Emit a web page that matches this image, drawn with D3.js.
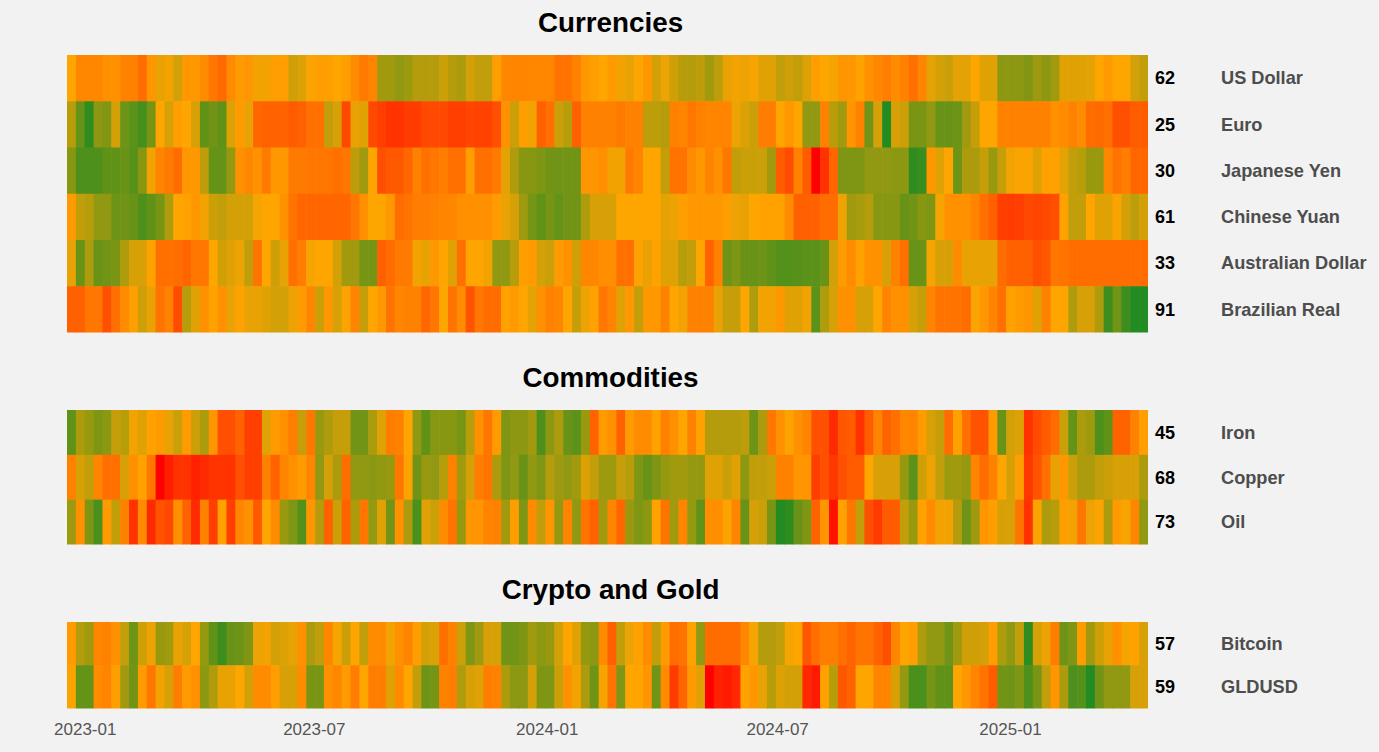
<!DOCTYPE html>
<html>
<head>
<meta charset="utf-8">
<script src="https://d3js.org/d3.v7.min.js"></script>
<style>
html,body{margin:0;padding:0;background:#f2f2f2;}
svg{display:block;font-family:"Liberation Sans",Arial,sans-serif;}
</style>
</head>
<body>
<svg id="chart" width="1379" height="752"></svg>
<script>
const usDollar = [50,41,41,41,44,44,39,39,33,45,
55,53,60,46,46,42,36,32,42,47,
45,53,53,48,48,61,58,51,48,48,
50,48,42,37,40,71,71,75,72,67,
67,67,62,67,69,60,64,64,48,41,
40,40,41,41,41,35,35,39,46,48,
50,47,53,55,50,46,60,54,61,66,
67,65,71,65,55,53,54,52,57,57,
64,61,64,58,48,50,52,45,46,49,
44,41,38,42,39,34,40,56,60,62,
56,56,50,57,57,76,76,76,78,72,
76,71,57,57,57,56,50,47,50,50,
60,64];
const euro = [66,85,97,76,78,60,83,87,92,81,
50,59,48,50,59,86,82,86,58,47,
55,31,30,30,30,28,29,34,34,64,
59,22,55,57,22,19,15,15,18,18,
22,22,22,19,19,21,20,20,24,44,
62,48,53,29,34,62,66,29,39,39,
39,39,37,39,39,65,65,67,39,40,
36,39,40,40,40,54,58,62,38,38,
50,46,50,75,75,39,66,71,45,39,
82,59,100,59,62,80,80,75,84,84,
83,71,63,50,50,39,39,39,39,39,
39,44,42,39,42,33,32,34,24,24,
28,28];
const yen = [77,90,90,90,86,86,84,88,77,53,
40,37,33,46,46,65,85,85,74,44,
41,44,37,46,46,37,37,36,36,36,
34,36,65,71,50,24,27,27,31,39,
34,36,38,34,34,48,34,34,37,56,
68,77,77,79,82,82,82,82,45,45,
43,53,53,37,40,50,50,64,35,35,
42,46,40,44,36,64,62,62,62,71,
28,23,39,28,0,15,31,79,79,79,
75,75,75,76,76,97,95,46,57,50,
83,69,69,63,73,63,53,51,51,57,
49,49,56,64,66,73,73,41,35,38,
31,31];
const yuan = [47,64,66,75,75,83,82,84,90,86,
81,68,50,49,46,53,62,64,60,60,
60,52,50,50,44,35,31,31,31,31,
31,31,36,44,50,50,46,33,35,38,
38,39,40,41,44,44,44,44,47,55,
59,72,81,86,81,85,82,82,68,59,
59,59,50,50,50,50,50,56,54,48,
46,46,46,46,48,54,55,50,49,49,
49,42,29,29,29,33,33,54,71,70,
67,77,77,77,84,82,77,79,52,44,
44,44,40,34,29,19,18,19,22,21,
22,24,49,64,64,50,57,57,51,60,
65,60];
const aud = [55,84,69,84,82,80,68,59,59,49,
34,34,33,31,36,36,50,61,57,54,
64,35,50,61,55,34,38,52,50,50,
60,71,71,81,81,29,33,37,37,53,
55,46,50,57,34,50,50,53,75,75,
66,48,47,60,62,47,44,61,41,41,
43,43,34,34,49,55,49,57,57,66,
64,50,30,39,83,79,84,84,83,86,
89,89,88,87,87,84,60,47,42,49,
44,44,59,39,34,84,84,52,59,59,
42,55,55,55,55,33,29,29,29,24,
26,36,35,33,33,33,33,33,33,33,
33,33];
const real = [29,29,36,36,24,34,42,48,61,55,
35,39,23,66,57,44,49,44,55,49,
55,55,57,60,60,54,47,40,62,46,
59,51,40,63,50,46,35,41,39,39,
31,36,50,35,42,25,36,33,33,49,
47,50,56,44,39,41,50,63,54,49,
36,40,57,46,64,46,46,39,50,53,
39,39,39,55,63,63,50,68,53,53,
46,57,57,53,87,68,59,44,44,59,
59,50,40,44,44,59,63,40,35,35,
35,33,51,46,40,34,49,47,45,57,
39,50,50,68,59,59,68,94,82,94,
100,100];
const iron = [86,69,73,79,76,63,66,53,57,49,
47,55,62,47,62,69,45,24,24,30,
19,19,57,47,44,38,63,36,73,68,
63,63,82,82,69,57,38,39,50,75,
86,77,77,77,81,66,44,36,47,79,
76,76,71,90,76,69,84,87,73,30,
47,44,30,47,42,42,49,39,44,50,
39,49,67,67,67,67,65,83,69,36,
44,51,44,40,24,24,13,26,28,15,
28,40,30,34,41,40,47,59,63,33,
49,34,25,25,47,84,60,58,15,23,
28,33,62,85,69,72,90,86,30,30,
39,48];
const copper = [39,59,64,40,34,34,59,44,49,36,
0,9,15,15,10,13,16,16,15,24,
19,19,39,30,40,44,47,40,75,60,
69,33,75,75,76,75,73,36,51,82,
73,75,66,39,71,60,38,35,69,79,
75,84,75,79,67,72,75,71,58,64,
72,72,63,66,79,84,79,74,71,71,
74,74,57,57,62,57,76,64,64,62,
39,39,45,45,19,24,17,24,28,28,
50,59,59,59,74,87,61,54,64,72,
71,74,40,33,39,50,59,48,17,25,
34,55,46,62,69,69,64,62,59,59,
59,69];
const oil = [72,44,79,91,47,64,39,15,42,13,
25,22,44,30,13,39,19,49,19,40,
44,27,50,42,73,79,89,45,67,29,
62,30,69,36,74,57,82,44,69,91,
57,62,42,35,74,45,45,40,39,71,
48,79,42,64,45,74,40,75,35,30,
71,40,31,73,79,76,49,35,71,40,
74,86,43,43,51,40,84,59,62,80,
100,97,84,79,30,45,5,49,36,64,
24,18,28,28,64,73,49,42,53,53,
67,83,72,45,48,59,59,35,15,51,
69,66,48,53,36,54,51,69,47,52,
41,75];
const bitcoin = [47,67,71,40,39,44,64,83,61,54,
73,71,55,59,50,74,86,94,84,83,
79,54,53,60,58,55,44,69,64,41,
52,62,50,64,42,42,53,44,40,48,
60,58,34,39,62,79,71,59,59,82,
82,79,71,76,73,60,50,57,74,76,
42,29,64,54,49,42,64,47,33,35,
49,75,33,33,33,33,41,52,67,67,
64,52,50,26,34,38,38,34,30,35,
35,30,24,40,50,48,68,75,75,82,
71,61,61,60,48,68,75,64,97,59,
54,38,83,79,47,71,61,55,44,52,
49,59];
const gldusd = [51,85,85,42,40,48,71,82,47,36,
53,59,38,47,44,76,68,55,55,50,
60,42,42,48,59,59,42,80,80,44,
41,47,38,50,38,38,57,42,50,64,
83,81,39,38,68,59,57,38,39,69,
76,76,60,79,79,62,44,53,69,83,
52,35,79,50,50,45,82,42,18,31,
47,57,0,10,8,12,49,46,55,66,
58,60,60,12,8,49,66,26,30,50,
50,40,40,59,74,91,91,81,86,86,
50,46,40,35,28,82,83,79,90,80,
64,45,69,90,89,100,82,75,75,75,
59,59];

const panelTitles = ["Currencies", "Commodities", "Crypto and Gold"];
const currencyNames = ["US Dollar", "Euro", "Japanese Yen", "Chinese Yuan", "Australian Dollar", "Brazilian Real"];
const commodityNames = ["Iron", "Copper", "Oil"];
const cryptoNames = ["Bitcoin", "GLDUSD"];
const currencyLatest = [62, 25, 30, 61, 33, 91];
const commodityLatest = [45, 68, 73];
const cryptoLatest = [57, 59];
const tickDates = ["2023-01-01", "2023-07-01", "2024-01-01", "2024-07-01", "2025-01-01"];
const colorStops = ["#ff0000", "#ffa500", "#228b22"];
const colorDomain = [0, 50, 100];

const panels = [
  {title: panelTitles[0], names: currencyNames, latest: currencyLatest, rows: [usDollar, euro, yen, yuan, aud, real], top: 55, bottom: 332.5, titleY: 32},
  {title: panelTitles[1], names: commodityNames, latest: commodityLatest, rows: [iron, copper, oil], top: 410, bottom: 544.5, titleY: 387},
  {title: panelTitles[2], names: cryptoNames, latest: cryptoLatest, rows: [bitcoin, gldusd], top: 622, bottom: 708.5, titleY: 599}
];

const left = 67, right = 1148;
const weekMs = 7 * 864e5;
const start = new Date(Date.UTC(2022, 11, 18));
const weekCount = usDollar.length;
const weeks = d3.range(weekCount).map(i => new Date(+start + i * weekMs));
const x = d3.scaleUtc().domain([start, new Date(+start + weekCount * weekMs)]).range([left, right]);
const color = d3.scaleLinear().domain(colorDomain).range(colorStops).interpolate(d3.interpolateRgb).clamp(true);

const svg = d3.select("#chart");

panels.forEach(p => {
  const y = d3.scaleBand().domain(p.names).range([p.top, p.bottom]);
  const g = svg.append("g");

  g.append("text")
    .attr("x", (left + right) / 2 + 3)
    .attr("y", p.titleY)
    .attr("text-anchor", "middle")
    .attr("font-size", 27.8)
    .attr("font-weight", "bold")
    .attr("fill", "#000")
    .text(p.title);

  p.names.forEach((name, r) => {
    const row = g.append("g");
    row.selectAll("rect")
      .data(p.rows[r])
      .join("rect")
      .attr("x", (d, i) => x(weeks[i]))
      .attr("y", y(name))
      .attr("width", (d, i) => x(new Date(+weeks[i] + weekMs)) - x(weeks[i]) + (i < weekCount - 1 ? 0.6 : 0))
      .attr("height", y.bandwidth() + (r < p.names.length - 1 ? 0.6 : 0))
      .attr("fill", d => color(d));

    const cy = y(name) + y.bandwidth() / 2;
    g.append("text")
      .attr("x", 1155)
      .attr("y", cy)
      .attr("dy", "0.35em")
      .attr("font-size", 18)
      .attr("font-weight", "bold")
      .attr("fill", "#000")
      .text(p.latest[r]);
    g.append("text")
      .attr("x", 1221)
      .attr("y", cy)
      .attr("dy", "0.35em")
      .attr("font-size", 18.2)
      .attr("font-weight", "bold")
      .attr("fill", "#4d4d4d")
      .text(name);
  });
});

const axis = d3.axisBottom(x)
  .tickValues(tickDates.map(d => new Date(d + "T00:00:00Z")))
  .tickFormat(d3.utcFormat("%Y-%m"))
  .tickSize(0)
  .tickPadding(0);

const ax = svg.append("g").attr("transform", "translate(0,723)").call(axis);
ax.select(".domain").remove();
ax.selectAll("text")
  .attr("font-size", 17)
  .attr("font-family", '"Liberation Sans",Arial,sans-serif')
  .attr("fill", "#555");
</script>
</body>
</html>
